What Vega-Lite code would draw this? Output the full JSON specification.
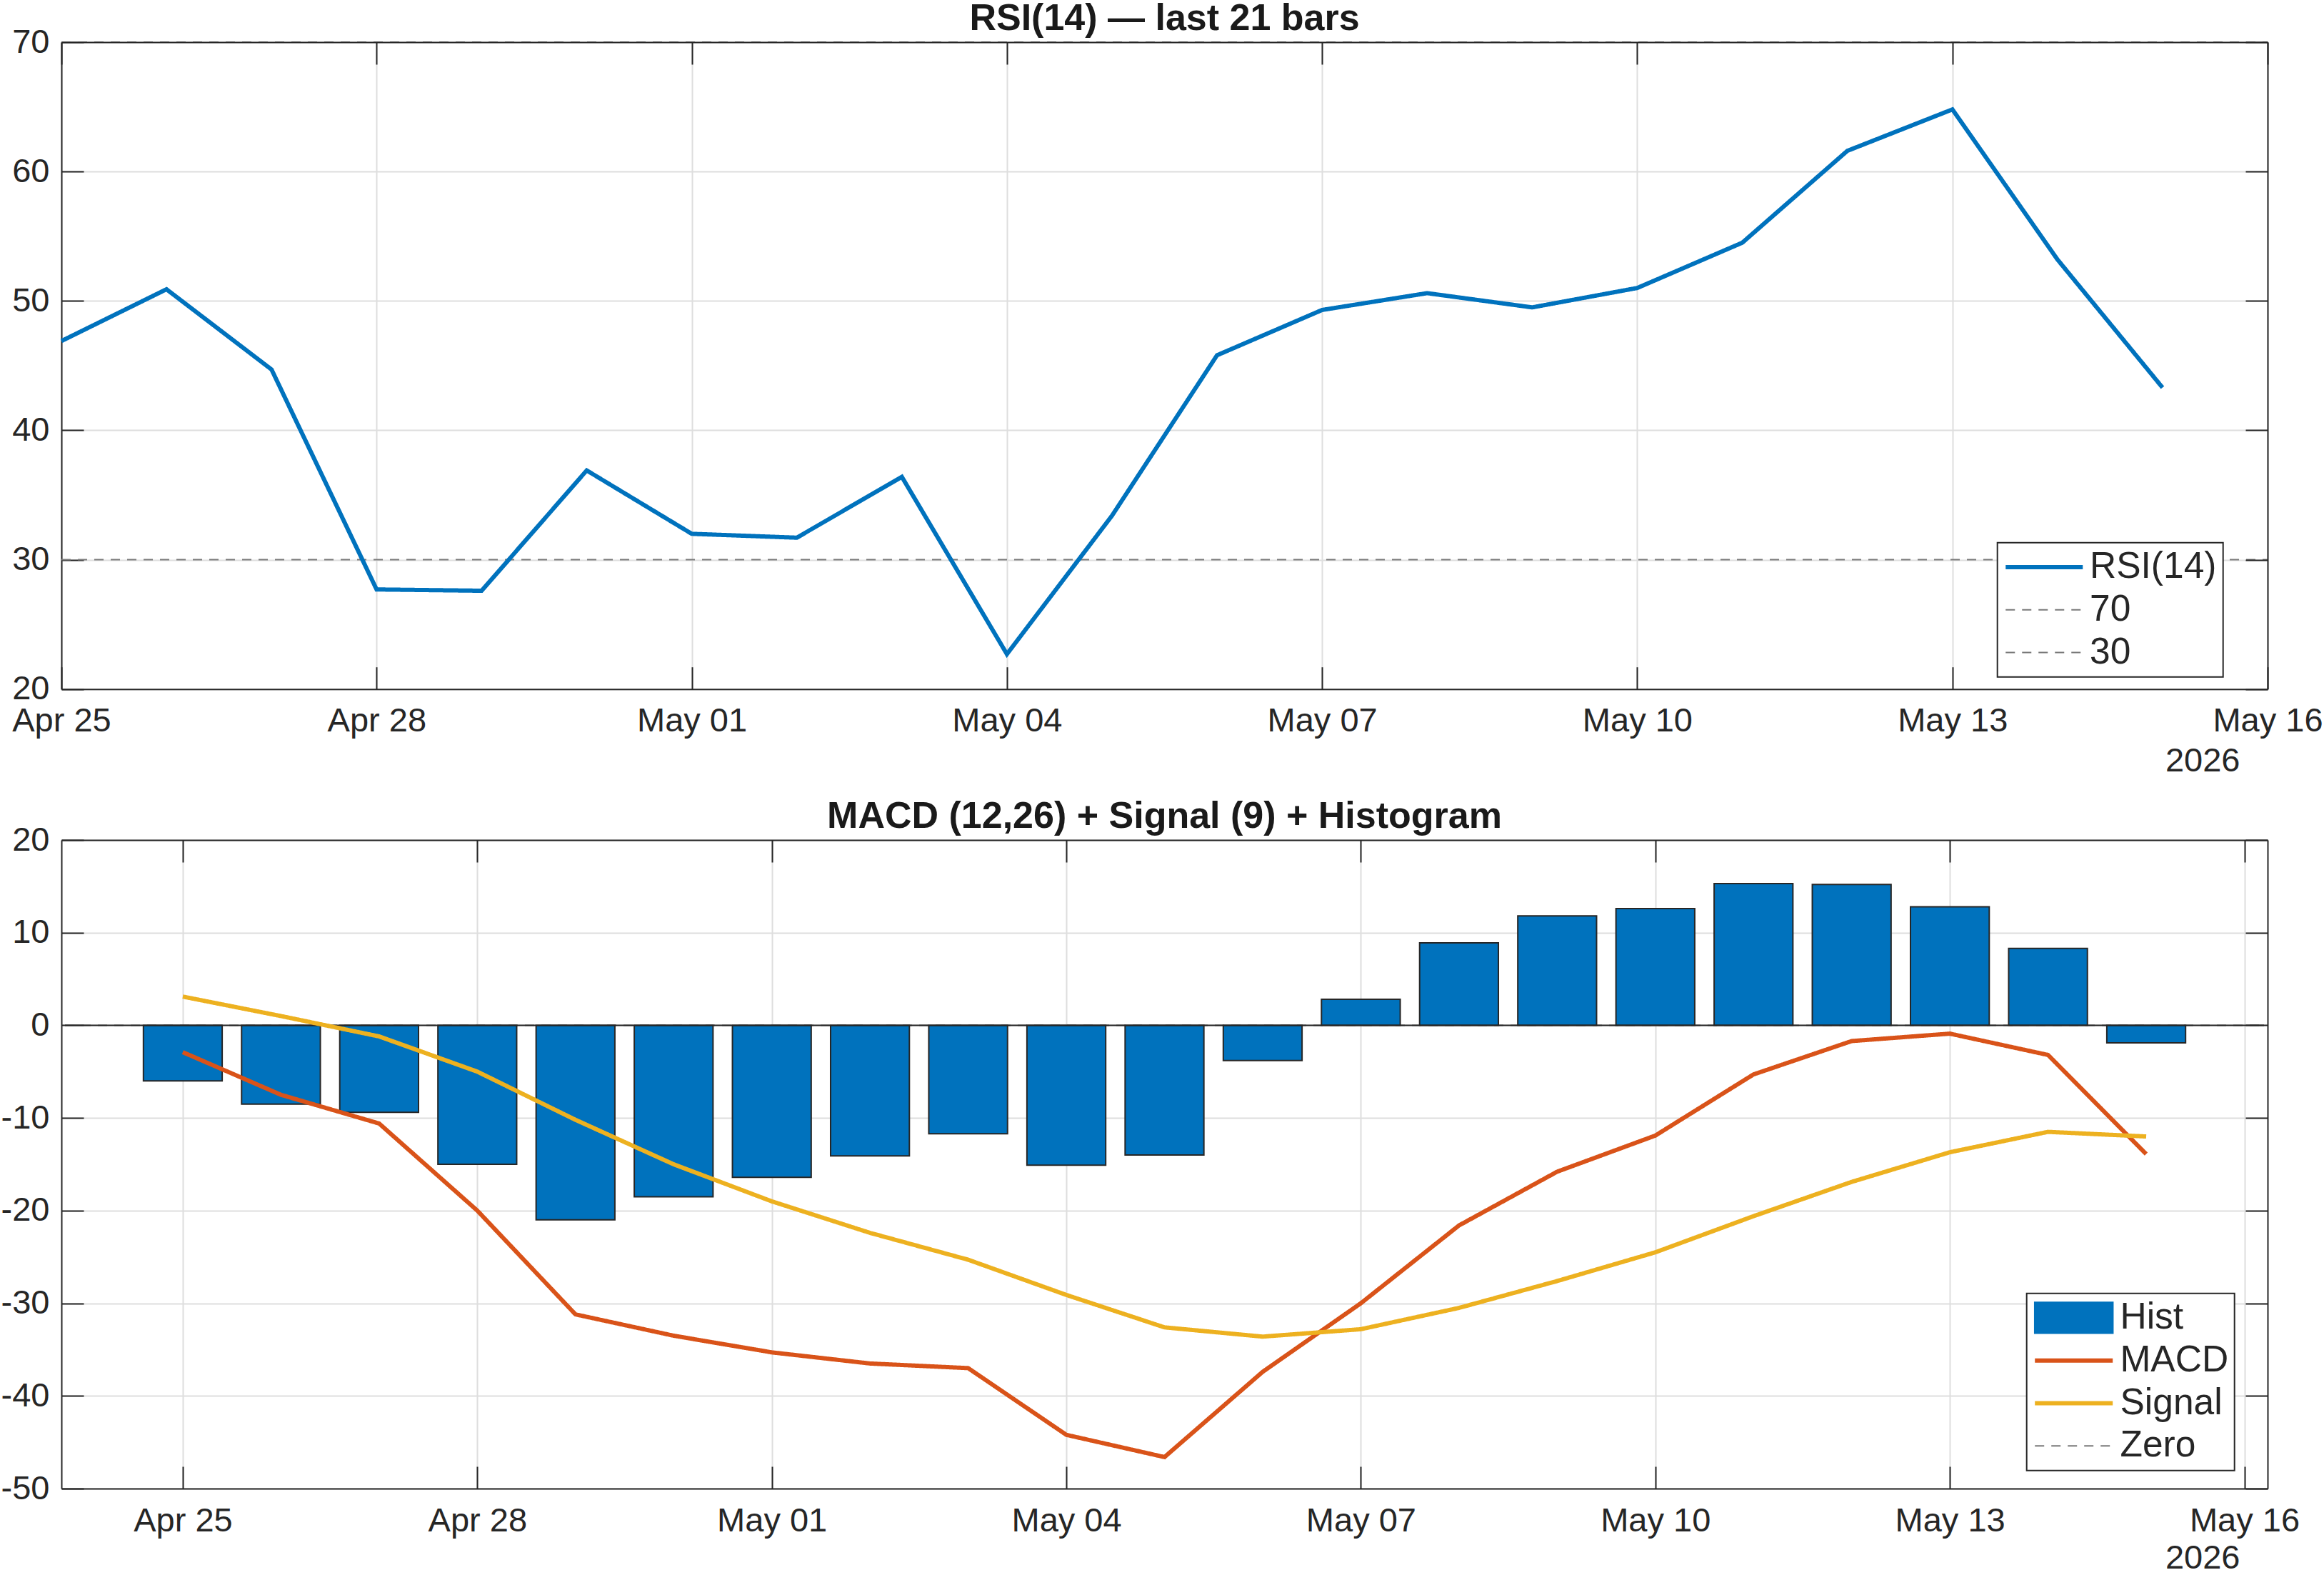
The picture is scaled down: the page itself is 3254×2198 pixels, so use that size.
{
  "$schema": "https://vega.github.io/schema/vega-lite/v6.json",
  "background": "white",
  "padding": {"left": 1, "top": 0, "right": 0, "bottom": 0},
  "spacing": 28,
  "config": {
    "font": "Liberation Sans",
    "view": {"stroke": null},
    "title": {"fontSize": 52, "fontWeight": "bold", "color": "#1a1a1a", "baseline": "alphabetic", "offset": -18, "anchor": "middle"},
    "axis": {
      "labelFont": "Liberation Sans", "labelFontSize": 47, "labelColor": "#262626",
      "tickSize": -31, "tickColor": "#262626", "tickWidth": 2,
      "domainColor": "#262626", "domainWidth": 2,
      "gridColor": "#dedede", "gridWidth": 2,
      "labelOverlap": false, "labelFlush": false,
      "titleFont": "Liberation Sans", "titleFontSize": 47, "titleFontWeight": "normal", "titleColor": "#262626"
    },
    "axisX": {"labelPadding": 53},
    "axisY": {"labelPadding": 48},
    "legend": {
      "title": null, "direction": "vertical", "orient": "none",
      "symbolSize": 1936, "symbolStrokeWidth": 2, "rowPadding": 6.8,
      "labelFont": "Liberation Sans", "labelFontSize": 51.5, "labelColor": "#262626", "labelLimit": 600,
      "padding": 8.5, "fillColor": "white", "strokeColor": "#262626"
    }
  },
  "datasets": {
    "rsi": [
      {"date": "2026-04-25", "rsi": 46.9},
      {"date": "2026-04-26", "rsi": 50.9},
      {"date": "2026-04-27", "rsi": 44.7},
      {"date": "2026-04-28", "rsi": 27.7},
      {"date": "2026-04-29", "rsi": 27.6},
      {"date": "2026-04-30", "rsi": 36.9},
      {"date": "2026-05-01", "rsi": 32.0},
      {"date": "2026-05-02", "rsi": 31.7},
      {"date": "2026-05-03", "rsi": 36.4},
      {"date": "2026-05-04", "rsi": 22.7},
      {"date": "2026-05-05", "rsi": 33.4},
      {"date": "2026-05-06", "rsi": 45.8},
      {"date": "2026-05-07", "rsi": 49.3},
      {"date": "2026-05-08", "rsi": 50.6},
      {"date": "2026-05-09", "rsi": 49.5},
      {"date": "2026-05-10", "rsi": 51.0},
      {"date": "2026-05-11", "rsi": 54.5},
      {"date": "2026-05-12", "rsi": 61.6},
      {"date": "2026-05-13", "rsi": 64.8},
      {"date": "2026-05-14", "rsi": 53.2},
      {"date": "2026-05-15", "rsi": 43.3}
    ],
    "rsiLevels": [
      {"series": "70", "level": 70},
      {"series": "30", "level": 30}
    ],
    "macd": [
      {"date": "2026-04-25", "hist": -6.0, "macd": -2.9, "signal": 3.1},
      {"date": "2026-04-26", "hist": -8.5, "macd": -7.5, "signal": 1.0},
      {"date": "2026-04-27", "hist": -9.4, "macd": -10.6, "signal": -1.2},
      {"date": "2026-04-28", "hist": -15.0, "macd": -20.0, "signal": -5.0},
      {"date": "2026-04-29", "hist": -21.0, "macd": -31.2, "signal": -10.2},
      {"date": "2026-04-30", "hist": -18.5, "macd": -33.5, "signal": -15.0},
      {"date": "2026-05-01", "hist": -16.4, "macd": -35.3, "signal": -19.0},
      {"date": "2026-05-02", "hist": -14.1, "macd": -36.5, "signal": -22.4},
      {"date": "2026-05-03", "hist": -11.7, "macd": -37.0, "signal": -25.3},
      {"date": "2026-05-04", "hist": -15.1, "macd": -44.2, "signal": -29.1},
      {"date": "2026-05-05", "hist": -14.0, "macd": -46.6, "signal": -32.6},
      {"date": "2026-05-06", "hist": -3.8, "macd": -37.4, "signal": -33.6},
      {"date": "2026-05-07", "hist": 2.8, "macd": -30.0, "signal": -32.8},
      {"date": "2026-05-08", "hist": 8.9, "macd": -21.6, "signal": -30.5},
      {"date": "2026-05-09", "hist": 11.8, "macd": -15.8, "signal": -27.6},
      {"date": "2026-05-10", "hist": 12.6, "macd": -11.9, "signal": -24.5},
      {"date": "2026-05-11", "hist": 15.3, "macd": -5.3, "signal": -20.6},
      {"date": "2026-05-12", "hist": 15.2, "macd": -1.7, "signal": -16.9},
      {"date": "2026-05-13", "hist": 12.8, "macd": -0.9, "signal": -13.7},
      {"date": "2026-05-14", "hist": 8.3, "macd": -3.2, "signal": -11.5},
      {"date": "2026-05-15", "hist": -1.9, "macd": -13.9, "signal": -12.0}
    ],
    "zeroLevel": [
      {"series": "Zero", "level": 0}
    ]
  },
  "resolve": {"scale": {"x": "independent", "y": "independent", "color": "independent", "strokeDash": "independent"}},
  "vconcat": [
    {
      "title": {"text": "RSI(14) — last 21 bars"},
      "width": 3089,
      "height": 905.7,
      "resolve": {"axis": {"x": "independent", "y": "independent"}},
      "layer": [
        {
          "data": {"name": "rsiLevels"},
          "mark": {"type": "rule", "strokeWidth": 2},
          "encoding": {
            "x": {
              "datum": {"year": 2026, "month": 4, "date": 25, "utc": true}, "type": "temporal",
              "scale": {"type": "utc", "nice": false, "domain": [{"year": 2026, "month": 4, "date": 25, "utc": true}, {"year": 2026, "month": 5, "date": 16, "utc": true}]},
              "axis": {
                "orient": "top", "labels": false, "grid": false, "title": null, "labelPadding": 0, "zindex": 1,
                "values": [
                  {"year": 2026, "month": 4, "date": 25, "utc": true}, {"year": 2026, "month": 4, "date": 28, "utc": true},
                  {"year": 2026, "month": 5, "date": 1, "utc": true}, {"year": 2026, "month": 5, "date": 4, "utc": true},
                  {"year": 2026, "month": 5, "date": 7, "utc": true}, {"year": 2026, "month": 5, "date": 10, "utc": true},
                  {"year": 2026, "month": 5, "date": 13, "utc": true}, {"year": 2026, "month": 5, "date": 16, "utc": true}
                ]
              }
            },
            "x2": {"datum": {"year": 2026, "month": 5, "date": 16, "utc": true}},
            "y": {
              "field": "level", "type": "quantitative",
              "scale": {"domain": [20, 70], "nice": false, "zero": false},
              "axis": {"orient": "right", "labels": false, "grid": false, "title": null, "labelPadding": 0, "zindex": 1, "values": [20, 30, 40, 50, 60, 70]}
            },
            "color": {
              "field": "series", "type": "nominal",
              "scale": {"domain": ["RSI(14)", "70", "30"], "range": ["#0072BD", "#7a7a7a", "#7a7a7a"]},
              "legend": {
                "legendX": 2710.7, "legendY": 700.7,
                "symbolType": "M-2.4545,0H2.4545",
                "symbolOffset": 31.3, "labelOffset": 38,
                "encode": {
                  "symbols": {"update": {
                    "shape": {"value": "M-2.4545,0H2.4545"},
                    "fill": {"value": "transparent"},
                    "strokeWidth": {"signal": "datum.value === 'RSI(14)' ? 6 : 2"},
                    "opacity": {"value": 1}
                  }},
                  "legend": {"update": {"strokeWidth": {"value": 2}}}
                }
              }
            },
            "strokeDash": {
              "field": "series", "type": "nominal",
              "scale": {"domain": ["RSI(14)", "70", "30"], "range": [[1, 0], [13, 10], [13, 10]]}
            }
          }
        },
        {
          "data": {"name": "rsi"},
          "mark": {"type": "line", "strokeWidth": 6},
          "encoding": {
            "x": {
              "field": "date", "type": "temporal",
              "scale": {"type": "utc", "nice": false, "domain": [{"year": 2026, "month": 4, "date": 25, "utc": true}, {"year": 2026, "month": 5, "date": 16, "utc": true}]},
              "axis": {
                "orient": "bottom", "grid": true, "format": "%b %d",
                "values": [
                  {"year": 2026, "month": 4, "date": 25, "utc": true}, {"year": 2026, "month": 4, "date": 28, "utc": true},
                  {"year": 2026, "month": 5, "date": 1, "utc": true}, {"year": 2026, "month": 5, "date": 4, "utc": true},
                  {"year": 2026, "month": 5, "date": 7, "utc": true}, {"year": 2026, "month": 5, "date": 10, "utc": true},
                  {"year": 2026, "month": 5, "date": 13, "utc": true}, {"year": 2026, "month": 5, "date": 16, "utc": true}
                ],
                "title": "2026", "titleAlign": "right", "titleX": 3050, "titleY": 115, "titleBaseline": "alphabetic"
              }
            },
            "y": {
              "field": "rsi", "type": "quantitative",
              "scale": {"domain": [20, 70], "nice": false, "zero": false},
              "axis": {"orient": "left", "grid": true, "title": null, "values": [20, 30, 40, 50, 60, 70]}
            },
            "color": {"datum": "RSI(14)"},
            "strokeDash": {"datum": "RSI(14)"}
          }
        }
      ]
    },
    {
      "title": {"text": "MACD (12,26) + Signal (9) + Histogram"},
      "width": 3089,
      "height": 908,
      "resolve": {"axis": {"x": "independent", "y": "independent"}},
      "layer": [
        {
          "data": {"name": "zeroLevel"},
          "mark": {"type": "rule", "strokeWidth": 2},
          "encoding": {
            "x": {
              "datum": {"year": 2026, "month": 4, "date": 23, "hours": 19, "minutes": 12, "utc": true}, "type": "temporal",
              "scale": {"type": "utc", "nice": false, "domain": [{"year": 2026, "month": 4, "date": 23, "hours": 19, "minutes": 12, "utc": true}, {"year": 2026, "month": 5, "date": 16, "hours": 4, "minutes": 48, "utc": true}]},
              "axis": {
                "orient": "top", "labels": false, "grid": false, "title": null, "labelPadding": 0, "zindex": 1,
                "values": [
                  {"year": 2026, "month": 4, "date": 25, "utc": true}, {"year": 2026, "month": 4, "date": 28, "utc": true},
                  {"year": 2026, "month": 5, "date": 1, "utc": true}, {"year": 2026, "month": 5, "date": 4, "utc": true},
                  {"year": 2026, "month": 5, "date": 7, "utc": true}, {"year": 2026, "month": 5, "date": 10, "utc": true},
                  {"year": 2026, "month": 5, "date": 13, "utc": true}, {"year": 2026, "month": 5, "date": 16, "utc": true}
                ]
              }
            },
            "x2": {"datum": {"year": 2026, "month": 5, "date": 16, "hours": 4, "minutes": 48, "utc": true}},
            "y": {
              "field": "level", "type": "quantitative",
              "scale": {"domain": [-50, 20], "nice": false, "zero": false},
              "axis": {"orient": "right", "labels": false, "grid": false, "title": null, "labelPadding": 0, "zindex": 1, "values": [-50, -40, -30, -20, -10, 0, 10, 20]}
            },
            "color": {
              "field": "series", "type": "nominal",
              "scale": {"domain": ["Hist", "MACD", "Signal", "Zero"], "range": ["#0072BD", "#D95319", "#EDB120", "#7a7a7a"]},
              "legend": {
                "legendX": 2751.7, "legendY": 634.7,
                "symbolOffset": 31.75, "labelOffset": 39,
                "encode": {
                  "symbols": {"update": {
                    "shape": {"signal": "datum.value === 'Hist' ? 'M-2.489,-0.984H2.489V0.984H-2.489Z' : 'M-2.477,0H2.477'"},
                    "fill": {"signal": "datum.value === 'Hist' ? '#0072BD' : 'transparent'"},
                    "stroke": {"signal": "datum.value === 'Hist' ? '#262626' : datum.value === 'MACD' ? '#D95319' : datum.value === 'Signal' ? '#EDB120' : '#7a7a7a'"},
                    "strokeWidth": {"signal": "datum.value === 'MACD' || datum.value === 'Signal' ? 6 : 2"},
                    "strokeDash": {"signal": "datum.value === 'Zero' ? [13, 10] : [1, 0]"},
                    "opacity": {"value": 1}
                  }},
                  "legend": {"update": {"strokeWidth": {"value": 2}}}
                }
              }
            },
            "strokeDash": {
              "field": "series", "type": "nominal",
              "scale": {"domain": ["Hist", "MACD", "Signal", "Zero"], "range": [[1, 0], [1, 0], [1, 0], [13, 10]]}
            }
          }
        },
        {
          "data": {"name": "macd"},
          "mark": {"type": "bar", "size": 110.3, "stroke": "#262626", "strokeWidth": 2},
          "encoding": {
            "x": {
              "field": "date", "type": "temporal",
              "scale": {"type": "utc", "nice": false, "domain": [{"year": 2026, "month": 4, "date": 23, "hours": 19, "minutes": 12, "utc": true}, {"year": 2026, "month": 5, "date": 16, "hours": 4, "minutes": 48, "utc": true}]},
              "axis": {
                "orient": "bottom", "grid": true, "format": "%b %d",
                "values": [
                  {"year": 2026, "month": 4, "date": 25, "utc": true}, {"year": 2026, "month": 4, "date": 28, "utc": true},
                  {"year": 2026, "month": 5, "date": 1, "utc": true}, {"year": 2026, "month": 5, "date": 4, "utc": true},
                  {"year": 2026, "month": 5, "date": 7, "utc": true}, {"year": 2026, "month": 5, "date": 10, "utc": true},
                  {"year": 2026, "month": 5, "date": 13, "utc": true}, {"year": 2026, "month": 5, "date": 16, "utc": true}
                ],
                "title": "2026", "titleAlign": "right", "titleX": 3050, "titleY": 111, "titleBaseline": "alphabetic"
              }
            },
            "y": {
              "field": "hist", "type": "quantitative",
              "scale": {"domain": [-50, 20], "nice": false, "zero": false},
              "axis": {
                "orient": "left", "grid": true, "title": null, "values": [-50, -40, -30, -20, -10, 0, 10, 20],
                "labelExpr": "datum.value < 0 ? '-' + abs(datum.value) : '' + datum.value"
              }
            },
            "color": {"datum": "Hist"}
          }
        },
        {
          "data": {"name": "zeroLevel"},
          "mark": {"type": "rule", "strokeWidth": 2, "color": "#262626"},
          "encoding": {
            "x": {"datum": {"year": 2026, "month": 4, "date": 23, "hours": 19, "minutes": 12, "utc": true}, "type": "temporal", "axis": null},
            "x2": {"datum": {"year": 2026, "month": 5, "date": 16, "hours": 4, "minutes": 48, "utc": true}},
            "y": {"field": "level", "type": "quantitative", "axis": null}
          }
        },
        {
          "data": {"name": "macd"},
          "mark": {"type": "line", "strokeWidth": 6},
          "encoding": {
            "x": {"field": "date", "type": "temporal", "axis": null},
            "y": {"field": "macd", "type": "quantitative", "axis": null},
            "color": {"datum": "MACD"},
            "strokeDash": {"datum": "MACD"}
          }
        },
        {
          "data": {"name": "macd"},
          "mark": {"type": "line", "strokeWidth": 6},
          "encoding": {
            "x": {"field": "date", "type": "temporal", "axis": null},
            "y": {"field": "signal", "type": "quantitative", "axis": null},
            "color": {"datum": "Signal"},
            "strokeDash": {"datum": "Signal"}
          }
        }
      ]
    }
  ]
}
